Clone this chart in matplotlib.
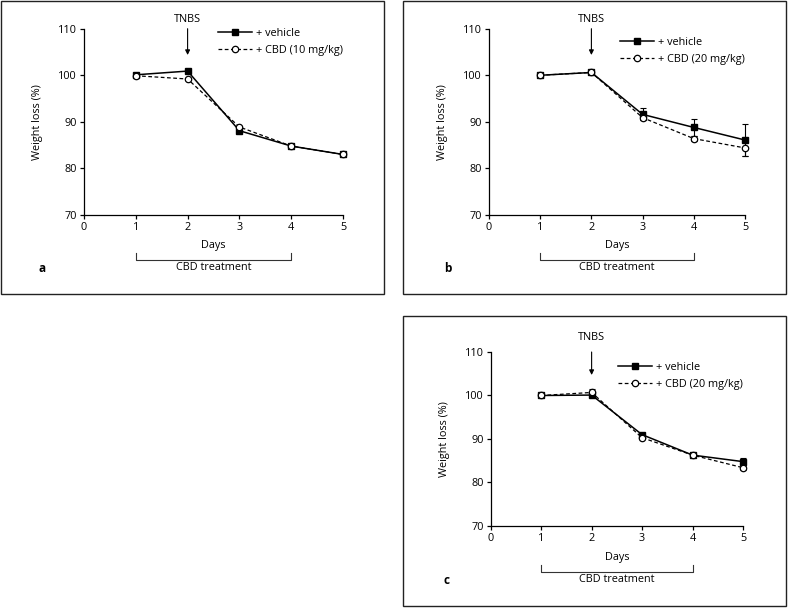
import matplotlib
matplotlib.use("Agg")
from matplotlib import pyplot as plt
from matplotlib.patches import Rectangle
from matplotlib.transforms import blended_transform_factory

plt.rcParams['font.family'] = ['Open Sans', 'DejaVu Sans']
plt.rcParams['font.size'] = 7.8

days = [1, 2, 3, 4, 5]

# panel a
veh_a = [100.1, 100.9, 88.1, 84.8, 83.0]
cbd_a = [99.9, 99.2, 88.9, 84.8, 83.0]
veh_a_err = [0.2, 0.2, 0.3, 0.2, 0.2]
cbd_a_err = [0.2, 0.2, 0.3, 0.2, 0.2]

# panel b
veh_b = [100.0, 100.6, 91.6, 88.8, 86.1]
cbd_b = [100.0, 100.6, 90.9, 86.4, 84.4]
veh_b_err = [0.2, 0.3, 1.3, 1.9, 3.5]
cbd_b_err = [0.2, 0.3, 0.6, 0.6, 1.8]

# panel c
veh_c = [100.0, 100.1, 91.0, 86.3, 84.8]
cbd_c = [100.0, 100.7, 90.3, 86.3, 83.4]
veh_c_err = [0.2, 0.3, 0.3, 0.2, 0.8]
cbd_c_err = [0.2, 0.7, 0.3, 0.2, 0.5]

W, H = 788, 611
fig = plt.figure(figsize=(W/100, H/100), dpi=100)


def fy(py):
    return (H - py) / H


def panel(ax_px, frame_px, veh, cbd, veh_err, cbd_err, dose, letter,
          tnbs_py, arrow_py, days_py, brk_py, tick_py, cbd_py, letter_px, leg_py):
    l, r, t, b = ax_px
    ax = fig.add_axes([l/W, fy(b), (r-l)/W, (b-t)/H])
    fl, fr, ft, fb = frame_px
    fig.patches.append(Rectangle((fl/W, fy(fb)), (fr-fl)/W, (fb-ft)/H,
                                 transform=fig.transFigure, fill=False,
                                 edgecolor='#222222', lw=1.0))
    # error bars
    ax.errorbar(days, veh, yerr=veh_err, fmt='none', ecolor='black',
                capsize=2.2, elinewidth=0.8, capthick=0.8, zorder=2, clip_on=False)
    ax.errorbar(days, cbd, yerr=cbd_err, fmt='none', ecolor='black',
                capsize=2.2, elinewidth=0.8, capthick=0.8, zorder=2, clip_on=False)
    ax.plot(days, veh, color='black', lw=1.1, marker='s', ms=4.6, mfc='black',
            mec='black', label='+ vehicle', zorder=3, clip_on=False)
    ax.plot(days, cbd, color='black', lw=0.9, ls=(0, (3, 2)), marker='o', ms=4.6,
            mfc='white', mec='black', mew=0.9, label='+ CBD (%s)' % dose,
            zorder=4, clip_on=False)
    ax.set_xlim(0, 5)
    ax.set_ylim(70, 110)
    ax.set_xticks([0, 1, 2, 3, 4, 5])
    ax.set_yticks([70, 80, 90, 100, 110])
    for s in ['top', 'right']:
        ax.spines[s].set_visible(False)
    for s in ['left', 'bottom']:
        ax.spines[s].set_linewidth(0.9)
    ax.tick_params(length=3, width=0.9, pad=2)
    ax.set_ylabel('Weight loss (%)')
    ax.yaxis.set_label_coords(-0.16, 0.5)

    tr = blended_transform_factory(ax.transData, fig.transFigure)
    ax.text(2, fy(tnbs_py), 'TNBS', transform=tr, ha='center', va='center')
    ax.annotate('', xy=(2, fy(arrow_py)), xytext=(2, fy(t)), xycoords=tr,
                textcoords=tr, annotation_clip=False,
                arrowprops=dict(arrowstyle='-|>', color='black', lw=0.8,
                                mutation_scale=7, shrinkA=0, shrinkB=0))
    ax.text(2.5, fy(days_py), 'Days', transform=tr, ha='center', va='center')
    ax.plot([1, 1, 4, 4], [fy(tick_py), fy(brk_py), fy(brk_py), fy(tick_py)],
            transform=tr, color='#333333', lw=0.8, clip_on=False)
    ax.text(2.5, fy(cbd_py), 'CBD treatment', transform=tr, ha='center', va='center')
    fig.text(letter_px/W, fy(cbd_py), letter, fontweight='bold', ha='center',
             va='center', fontsize=8.5)
    ax.legend(loc='upper right', bbox_to_anchor=(1.0, 1 - (leg_py - t)/(b - t)),
              frameon=False, borderpad=0, borderaxespad=0, handlelength=3.1,
              handletextpad=0.4, labelspacing=0.55)
    return ax


panel((84, 343, 28.7, 215), (1, 384, 1, 294), veh_a, cbd_a, veh_a_err, cbd_a_err,
      '10 mg/kg', 'a', 20, 55, 245.5, 260, 252.5, 268, 42, 28)
panel((489, 745, 28.7, 215), (403, 786, 1, 294), veh_b, cbd_b, veh_b_err, cbd_b_err,
      '20 mg/kg', 'b', 20, 55, 245.5, 260, 252.5, 268, 448, 37)
panel((490.7, 743, 352, 526), (403, 786, 316, 606), veh_c, cbd_c, veh_c_err, cbd_c_err,
      '20 mg/kg', 'c', 338, 375, 557.5, 572, 564.5, 580, 447, 362)

fig.savefig('out.png', dpi=100)
